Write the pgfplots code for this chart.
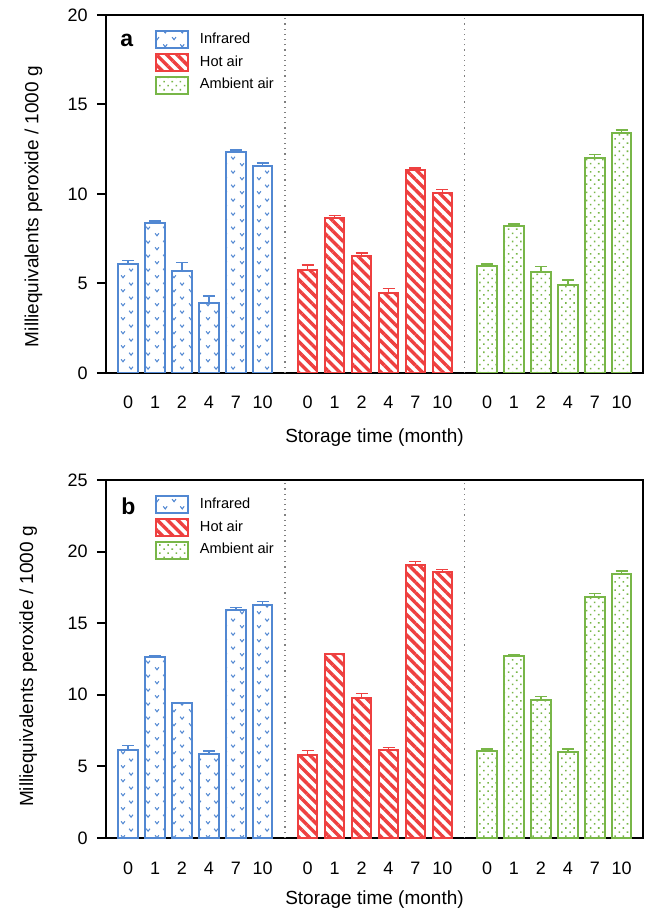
\documentclass[border=0pt]{standalone}
\usepackage{fontspec}
\setmainfont{Liberation Sans}
\usepackage{pgfplots}
\usepackage{pgfplotstable}
\pgfplotsset{compat=1.18}
\usetikzlibrary{patterns,patterns.meta}

\definecolor{cIR}{RGB}{82,136,210}
\definecolor{cHA}{RGB}{238,64,64}
\definecolor{cAA}{RGB}{120,182,72}

\pgfdeclarepatternformonly{vmarks}{\pgfpointorigin}{\pgfqpoint{8.5pt}{7pt}}{\pgfqpoint{8.5pt}{7pt}}{%
  \pgfsetlinewidth{0.55pt}%
  \pgfpathmoveto{\pgfqpoint{1.1pt}{2.5pt}}\pgfpathlineto{\pgfqpoint{2.1pt}{1.2pt}}\pgfpathlineto{\pgfqpoint{3.1pt}{2.5pt}}%
  \pgfpathmoveto{\pgfqpoint{5.35pt}{6.0pt}}\pgfpathlineto{\pgfqpoint{6.35pt}{4.7pt}}\pgfpathlineto{\pgfqpoint{7.35pt}{6.0pt}}%
  \pgfusepath{stroke}%
}

% panel a
\pgfplotstableread{
x y e
0 6.09 0.20
1 8.40 0.10
2 5.72 0.45
3 3.93 0.38
4 12.35 0.10
5 11.56 0.17
}\aIR
\pgfplotstableread{
x y e
6.67 5.75 0.28
7.67 8.68 0.11
8.67 6.54 0.17
9.67 4.45 0.28
10.67 11.34 0.11
11.67 10.07 0.19
}\aHA
\pgfplotstableread{
x y e
13.33 5.98 0.11
14.33 8.19 0.13
15.33 5.64 0.30
16.33 4.90 0.30
17.33 12.03 0.17
18.33 13.42 0.15
}\aAA
% panel b
\pgfplotstableread{
x y e
0 6.15 0.30
1 12.65 0.05
2 9.40 0.05
3 5.87 0.20
4 15.90 0.20
5 16.30 0.20
}\bIR
\pgfplotstableread{
x y e
6.67 5.80 0.30
7.67 12.85 0.05
8.67 9.80 0.30
9.67 6.15 0.15
10.67 19.06 0.25
11.67 18.60 0.15
}\bHA
\pgfplotstableread{
x y e
13.33 6.05 0.16
14.33 12.73 0.05
15.33 9.61 0.26
16.33 6.03 0.19
17.33 16.85 0.21
18.33 18.41 0.23
}\bAA

\pgfplotsset{
  mybar/.style={ybar, bar width=9.75pt, bar shift=0pt, line width=1pt, draw=#1,
    /pgfplots/error bars/y dir=plus, /pgfplots/error bars/y explicit,
    /pgfplots/error bars/error bar style={line width=0.7pt, draw=#1, solid},
    /pgfplots/error bars/error mark options={rotate=90, draw=#1, line width=0.7pt, mark size=3pt, solid}},
  myaxis/.style={
    scale only axis, width=268.5pt, height=179pt,
    xmin=-0.82, xmax=19.12, ymin=0,
    axis line style={line width=1pt},
    xtick={0,1,2,3,4,5,6.67,7.67,8.67,9.67,10.67,11.67,13.33,14.33,15.33,16.33,17.33,18.33},
    xticklabels={0,1,2,4,7,10,0,1,2,4,7,10,0,1,2,4,7,10},
    xtick style={draw=none},
    xtick pos=bottom, ytick pos=left, tick align=outside, major tick length=4.5pt,
    ytick style={line width=1pt, black},
    tick label style={font=\fontsize{9}{10}\selectfont},
    /pgf/number format/assume math mode=true,
    xticklabel style={anchor=base, yshift=-13.5pt},
    yticklabel style={anchor=east, inner sep=0pt, xshift=-4.5pt},
    label style={font=\fontsize{9.5}{11}\selectfont},
    xlabel={Storage time (month)},
    ylabel={Milliequivalents peroxide / 1000 g},
    legend cell align=left,
    legend style={draw=none, fill=none, at={(axis description cs:0.0912,0.958)}, anchor=north west,
      inner sep=0pt, outer sep=0pt, row sep=1.9pt, font=\fontsize{7.3}{8}\selectfont,
      nodes={inner sep=0pt, outer sep=0pt},
      /tikz/every odd column/.append style={column sep=5.5pt}},
  },
  myleg/.style={legend image code/.code={\draw[##1] (0pt,-4.25pt) rectangle (16pt,4.25pt);}},
}

\begin{document}
\begin{tikzpicture}
\useasboundingbox (0,0) rectangle (323pt,455pt);
% ---------- panel a
\begin{axis}[myaxis, at={(53pt,268.5pt)}, anchor=south west, ymax=20,
  ytick={0,5,10,15,20},
  xlabel style={at={(axis description cs:0.5,0)}, anchor=base, yshift=-35pt},
  ylabel style={at={(axis description cs:-0.135,0.465)}, anchor=center}]
\addplot[mybar=cIR, pattern=vmarks, pattern color=cIR, myleg] table[x=x,y=y,y error=e] {\aIR};
\addplot[mybar=cHA, pattern={Lines[angle=-45,distance=3.65pt,line width=1.7pt]}, pattern color=cHA, myleg] table[x=x,y=y,y error=e] {\aHA};
\addplot[mybar=cAA, pattern={Dots[angle=45,distance=2.9pt,radius=0.55pt]}, pattern color=cAA, myleg] table[x=x,y=y,y error=e] {\aAA};
\legend{Infrared,Hot air,Ambient air}
\addplot[forget plot, dotted, gray, line width=0.6pt] coordinates {(5.83,0) (5.83,20)};
\addplot[forget plot, dotted, gray, line width=0.6pt] coordinates {(12.5,0) (12.5,20)};
\node[font=\bfseries\fontsize{11.5}{12}\selectfont, anchor=base west, inner sep=0pt] at (axis description cs:0.026,0.913) {a};
\end{axis}
% ---------- panel b
\begin{axis}[myaxis, at={(53pt,36pt)}, anchor=south west, ymax=25,
  ytick={0,5,10,15,20,25},
  xlabel style={at={(axis description cs:0.5,0)}, anchor=base, yshift=-33pt},
  ylabel style={at={(axis description cs:-0.145,0.479)}, anchor=center}]
\addplot[mybar=cIR, pattern=vmarks, pattern color=cIR, myleg] table[x=x,y=y,y error=e] {\bIR};
\addplot[mybar=cHA, pattern={Lines[angle=-45,distance=3.65pt,line width=1.7pt]}, pattern color=cHA, myleg] table[x=x,y=y,y error=e] {\bHA};
\addplot[mybar=cAA, pattern={Dots[angle=45,distance=2.9pt,radius=0.55pt]}, pattern color=cAA, myleg] table[x=x,y=y,y error=e] {\bAA};
\legend{Infrared,Hot air,Ambient air}
\addplot[forget plot, dotted, gray, line width=0.6pt] coordinates {(5.83,0) (5.83,25)};
\addplot[forget plot, dotted, gray, line width=0.6pt] coordinates {(12.5,0) (12.5,25)};
\node[font=\bfseries\fontsize{11.5}{12}\selectfont, anchor=base west, inner sep=0pt] at (axis description cs:0.028,0.905) {b};
\end{axis}
\end{tikzpicture}
\end{document}
